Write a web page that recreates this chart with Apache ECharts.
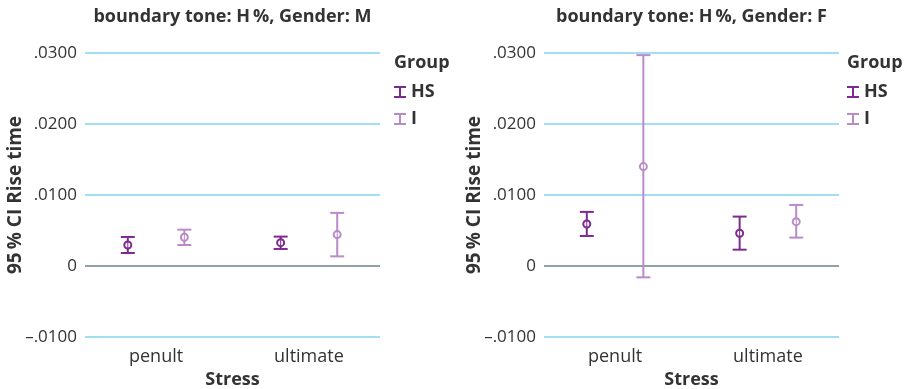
<!DOCTYPE html>
<html>
<head>
<meta charset="utf-8">
<script src="https://cdn.jsdelivr.net/npm/echarts@6/dist/echarts.min.js"></script>
<style>
html,body{margin:0;padding:0;background:#fff;}
#c{width:913px;height:389px;}
</style>
</head>
<body>
<div id="c"></div>
<script>
// ---- data ----
const categories = ['penult', 'ultimate'];
const groups = ['HS', 'I'];
const panelTitles = ['boundary tone: H\u2009%, Gender: M', 'boundary tone: H\u2009%, Gender: F'];
const yTicks = [-0.01, 0, 0.01, 0.02, 0.03];

// Gender M: [mean, lower, upper] per category
const mHSmean = [0.00296, 0.00329];
const mHSlow  = [0.00183, 0.00240];
const mHShigh = [0.00409, 0.00414];
const mImean  = [0.00405, 0.00442];
const mIlow   = [0.00296, 0.00136];
const mIhigh  = [0.00512, 0.00748];

// Gender F
const fHSmean = [0.00592, 0.00461];
const fHSlow  = [0.00423, 0.00230];
const fHShigh = [0.00762, 0.00696];
const fImean  = [0.01400, 0.00625];
const fIlow   = [-0.00160, 0.00400];
const fIhigh  = [0.02970, 0.00860];

// ---- styling ----
const FONT = 'Open Sans';
const colors = {HS: '#7f2a8f', I: '#b98bc8'};
const dodge = {HS: -0.185, I: 0.185};
const gridLefts = [85, 544];
const legendLefts = [394, 847];
const gridW = 295;

function yFmt(v) {
  if (Math.abs(v) < 1e-12) return '0';
  const s = '.' + Math.abs(v).toFixed(4).slice(2);
  return (v < 0 ? '\u2013' : '') + s;
}

function buildData(mean, low, high) {
  return categories.map((c, i) => [i, low[i], mean[i], high[i]]);
}

function makeRender(group) {
  const col = colors[group];
  return function (params, api) {
    const unit = api.size([1, 0])[0];
    const idx = api.value(0);
    const lo = api.coord([idx, api.value(1)]);
    const mid = api.coord([idx, api.value(2)]);
    const hi = api.coord([idx, api.value(3)]);
    const x = lo[0] + dodge[group] * unit;
    const cap = 7;
    const st = {stroke: col, lineWidth: 2, fill: null};
    return {
      type: 'group',
      children: [
        {type: 'line', shape: {x1: x, y1: lo[1], x2: x, y2: hi[1]}, style: st},
        {type: 'line', shape: {x1: x - cap, y1: lo[1], x2: x + cap, y2: lo[1]}, style: st},
        {type: 'line', shape: {x1: x - cap, y1: hi[1], x2: x + cap, y2: hi[1]}, style: st},
        {type: 'circle', shape: {cx: x, cy: mid[1], r: 3.5}, style: {stroke: col, lineWidth: 2, fill: '#fff'}},
        {type: 'line', shape: {x1: x, y1: mid[1] - 3, x2: x, y2: mid[1] + 3}, style: {stroke: col, lineWidth: 1}}
      ]
    };
  };
}

const panels = [
  {HS: [mHSmean, mHSlow, mHShigh], I: [mImean, mIlow, mIhigh]},
  {HS: [fHSmean, fHSlow, fHShigh], I: [fImean, fIlow, fIhigh]}
];

const grid = [], xAxis = [], yAxis = [], series = [], title = [], legend = [];
panels.forEach((p, k) => {
  grid.push({left: gridLefts[k], width: gridW, top: 53, height: 284, containLabel: false, outerBoundsMode: 'none'});
  xAxis.push({
    type: 'value', gridIndex: k, min: -0.465, max: 1.465,
    name: 'Stress', nameLocation: 'middle', nameGap: 31,
    nameTextStyle: {fontFamily: FONT, fontWeight: 'bold', fontSize: 18, color: '#333'},
    axisLine: {show: false}, axisTick: {show: false}, splitLine: {show: false},
    axisLabel: {
      customValues: categories.map((c, i) => i),
      formatter: v => categories[Math.round(v)] || '',
      fontFamily: FONT, fontSize: 18, color: '#333', margin: 11
    }
  });
  yAxis.push({
    type: 'value', gridIndex: k, min: yTicks[0], max: yTicks[yTicks.length - 1], interval: 0.01,
    name: '95\u2009% CI Rise time', nameLocation: 'middle', nameGap: 60, nameMoveOverlap: false,
    nameTextStyle: {fontFamily: FONT, fontWeight: 'bold', fontSize: 19, color: '#333'},
    axisLine: {show: false}, axisTick: {show: false},
    splitLine: {show: true, lineStyle: {color: '#86d3f0', width: 1.5}},
    axisLabel: {formatter: yFmt, fontFamily: FONT, fontSize: 17, color: '#333', margin: 8}
  });
  groups.forEach((g, gi) => {
    const d = p[g];
    series.push({
      type: 'custom', name: g, xAxisIndex: k, yAxisIndex: k,
      itemStyle: {color: colors[g]},
      renderItem: makeRender(g),
      data: buildData(d[0], d[1], d[2]),
      z: 3,
      markLine: gi === 0 ? {
        silent: true, symbol: 'none', label: {show: false},
        lineStyle: {color: '#8c8c8c', width: 1.5, type: 'solid'},
        data: [{yAxis: 0}], z: 2
      } : undefined
    });
  });
  title.push({
    text: panelTitles[k], left: gridLefts[k] + gridW / 2, top: 8, textAlign: 'center', padding: 0,
    textStyle: {fontFamily: FONT, fontWeight: 'bold', fontSize: 18, color: '#333'}
  });
  title.push({
    text: 'Group', left: legendLefts[k] - 5, top: 49,
    textStyle: {fontFamily: FONT, fontWeight: 'bold', fontSize: 18, color: '#333'}
  });
  legend.push({
    orient: 'vertical', left: legendLefts[k] - 5, top: 76,
    data: groups, itemWidth: 12, itemHeight: 12, itemGap: 5,
    icon: 'path://M0,0H12V2H7V10H12V12H0V10H5V2H0Z',
    textStyle: {fontFamily: FONT, fontWeight: 'bold', fontSize: 18, color: '#333', lineHeight: 22},
    selectedMode: false
  });
});

const chart = echarts.init(document.getElementById('c'), null, {renderer: 'canvas'});
chart.setOption({
  animation: false,
  backgroundColor: '#fff',
  title, grid, xAxis, yAxis, series, legend
});
</script>
</body>
</html>
